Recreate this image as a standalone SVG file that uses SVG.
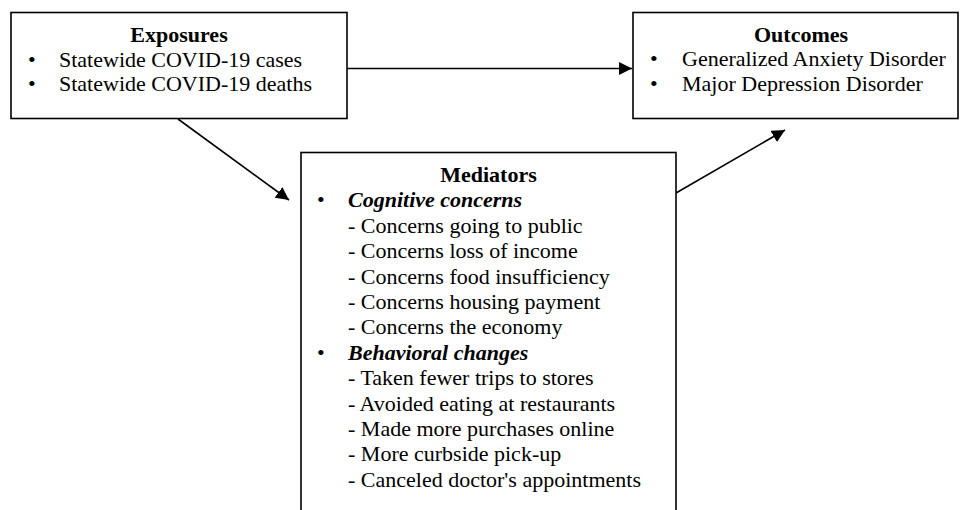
<svg xmlns="http://www.w3.org/2000/svg" width="960" height="510" viewBox="0 0 960 510">
<style>
.box{fill:#fff;stroke:#000;stroke-width:1.6}
.t{font-family:"Liberation Serif","Times New Roman",serif;font-size:22px;fill:#000}
.h{font-weight:bold;text-anchor:middle}
.bi{font-weight:bold;font-style:italic}
.c{stroke:#000;stroke-width:1.6;fill:none}
</style>
<defs>
<marker id="ah" viewBox="0 0 10 10" refX="10" refY="5" markerWidth="13" markerHeight="13" markerUnits="userSpaceOnUse" orient="auto">
<path d="M0,0 L10,5 L0,10 z" fill="#000"/>
</marker>
</defs>
<rect width="960" height="510" fill="#fff"/>
<g id="connectors">
<line class="c" x1="347" y1="68.5" x2="632" y2="68.5" marker-end="url(#ah)"/>
<line class="c" x1="178" y1="119" x2="289" y2="200" marker-end="url(#ah)"/>
<line class="c" x1="676" y1="193" x2="785" y2="130" marker-end="url(#ah)"/>
</g>
<g id="exposures">
<rect class="box" x="11" y="12.5" width="336" height="106"/>
<text class="t h" x="179" y="42">Exposures</text>
<text class="t" x="28" y="67">•</text>
<text class="t" x="59" y="67">Statewide COVID-19 cases</text>
<text class="t" x="28" y="91">•</text>
<text class="t" x="59" y="91">Statewide COVID-19 deaths</text>
</g>
<g id="outcomes">
<rect class="box" x="633" y="12.5" width="325" height="106"/>
<text class="t h" x="801" y="42">Outcomes</text>
<text class="t" x="650" y="66">•</text>
<text class="t" x="682" y="66">Generalized Anxiety Disorder</text>
<text class="t" x="650" y="91">•</text>
<text class="t" x="682" y="91">Major Depression Disorder</text>
</g>
<g id="mediators">
<rect class="box" x="301" y="152.5" width="375" height="370"/>
<text class="t h" x="488.5" y="182">Mediators</text>
<text class="t" x="317" y="207.4">•</text>
<text class="t bi" x="348" y="207.4">Cognitive concerns</text>
<text class="t" x="348" y="232.8">- Concerns going to public</text>
<text class="t" x="348" y="258.2">- Concerns loss of income</text>
<text class="t" x="348" y="283.6">- Concerns food insufficiency</text>
<text class="t" x="348" y="309">- Concerns housing payment</text>
<text class="t" x="348" y="334.4">- Concerns the economy</text>
<text class="t" x="317" y="359.8">•</text>
<text class="t bi" x="348" y="359.8">Behavioral changes</text>
<text class="t" x="348" y="385.2">- Taken fewer trips to stores</text>
<text class="t" x="348" y="410.6">- Avoided eating at restaurants</text>
<text class="t" x="348" y="436">- Made more purchases online</text>
<text class="t" x="348" y="461.4">- More curbside pick-up</text>
<text class="t" x="348" y="486.8">- Canceled doctor's appointments</text>
</g>
</svg>
